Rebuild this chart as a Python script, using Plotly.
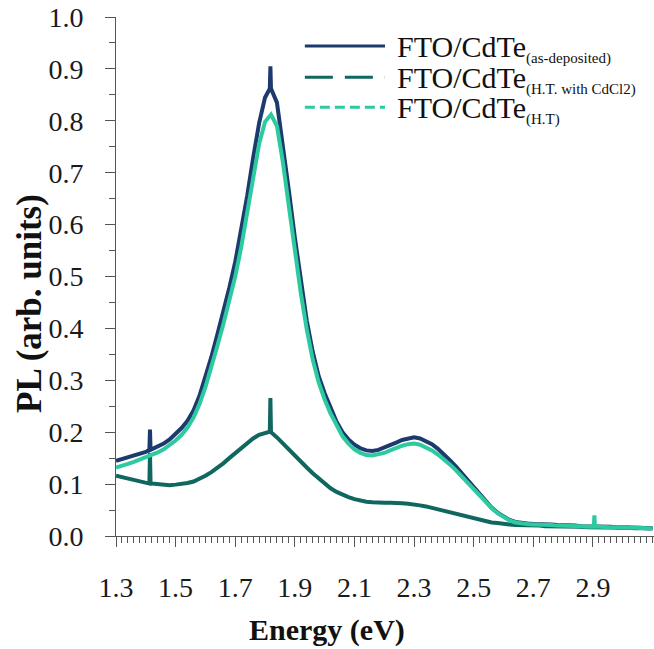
import numpy as np
import plotly.graph_objects as go

# Photon energy grid (eV) on which the spectra were sampled
energy = np.round(np.arange(1.30, 3.101, 0.02), 2).tolist()

# PL intensity, FTO/CdTe as-deposited
pl_as_deposited = [
    0.145, 0.148, 0.151, 0.154, 0.158, 0.162, 0.167, 0.172, 0.178, 0.186,
    0.196, 0.208, 0.222, 0.242, 0.270, 0.305, 0.345, 0.388, 0.432, 0.478,
    0.528, 0.588, 0.655, 0.728, 0.795, 0.845, 0.862, 0.835, 0.755, 0.665,
    0.575, 0.490, 0.415, 0.355, 0.308, 0.275, 0.245, 0.220, 0.200, 0.186,
    0.176, 0.169, 0.165, 0.164, 0.166, 0.170, 0.175, 0.180, 0.185, 0.188,
    0.190, 0.188, 0.183, 0.177, 0.168, 0.158, 0.146, 0.134, 0.121, 0.107,
    0.093, 0.080, 0.067, 0.055, 0.045, 0.037, 0.031, 0.027, 0.025, 0.024,
    0.023, 0.023, 0.022, 0.022, 0.021, 0.021, 0.020, 0.020, 0.019, 0.019,
    0.019, 0.018, 0.018, 0.018, 0.017, 0.017, 0.016, 0.016, 0.016, 0.015,
    0.015,
]

# PL intensity, FTO/CdTe heat treated with CdCl2
pl_ht_cdcl2 = [
    0.116, 0.113, 0.110, 0.107, 0.105, 0.103, 0.101, 0.100, 0.099, 0.098,
    0.099, 0.100, 0.102, 0.105, 0.110, 0.116, 0.123, 0.131, 0.140, 0.150,
    0.160, 0.170, 0.180, 0.188, 0.195, 0.199, 0.200, 0.190, 0.178, 0.166,
    0.155, 0.143, 0.132, 0.121, 0.111, 0.101, 0.092, 0.085, 0.079, 0.075,
    0.071, 0.068, 0.066, 0.065, 0.064, 0.064, 0.064, 0.064, 0.063, 0.062,
    0.061, 0.059, 0.057, 0.054, 0.051, 0.048, 0.045, 0.042, 0.039, 0.036,
    0.033, 0.030, 0.028, 0.026, 0.025, 0.023, 0.022, 0.021, 0.021, 0.020,
    0.020, 0.020, 0.019, 0.019, 0.019, 0.018, 0.018, 0.018, 0.018, 0.017,
    0.017, 0.017, 0.017, 0.016, 0.016, 0.016, 0.016, 0.015, 0.015, 0.015,
    0.015,
]

# PL intensity, FTO/CdTe heat treated
pl_ht = [
    0.132, 0.135, 0.139, 0.143, 0.147, 0.151, 0.156, 0.161, 0.167, 0.175,
    0.184, 0.195, 0.209, 0.228, 0.254, 0.287, 0.325, 0.366, 0.408, 0.452,
    0.500, 0.556, 0.620, 0.690, 0.755, 0.798, 0.812, 0.790, 0.720, 0.635,
    0.550, 0.468, 0.398, 0.340, 0.296, 0.263, 0.236, 0.212, 0.192, 0.178,
    0.167, 0.160, 0.156, 0.155, 0.157, 0.160, 0.165, 0.170, 0.174, 0.177,
    0.178, 0.176, 0.171, 0.165, 0.157, 0.148, 0.138, 0.127, 0.115, 0.102,
    0.089, 0.077, 0.065, 0.054, 0.044, 0.036, 0.030, 0.026, 0.024, 0.023,
    0.022, 0.022, 0.021, 0.021, 0.020, 0.020, 0.020, 0.019, 0.019, 0.018,
    0.018, 0.018, 0.017, 0.017, 0.017, 0.016, 0.016, 0.016, 0.015, 0.015,
    0.015,
]

# Narrow spikes (energy, intensity) superimposed on each spectrum
spikes_as_deposited_e = [1.412, 1.414, 1.416, 1.816, 1.818, 1.820]
spikes_as_deposited_v = [0.166, 0.205, 0.166, 0.862, 0.905, 0.862]
spikes_ht_cdcl2_e = [1.412, 1.414, 1.416, 1.816, 1.818, 1.820]
spikes_ht_cdcl2_v = [0.101, 0.160, 0.101, 0.201, 0.266, 0.200]
spikes_ht_e = [2.903, 2.905, 2.907]
spikes_ht_v = [0.018, 0.040, 0.018]

legend_labels = [
    "FTO/CdTe<sub><span style='font-size:15px'>(as-deposited)</span></sub>",
    "FTO/CdTe<sub><span style='font-size:15px'>(H.T. with CdCl2)</span></sub>",
    "FTO/CdTe<sub><span style='font-size:15px'>(H.T)</span></sub>",
]

COL_AS_DEP = "#1c3a6e"
COL_CDCL2 = "#10675f"
COL_HT = "#2dcaa0"
SERIF = "Liberation Serif, Times New Roman, serif"


def merged(xs, ys, sx, sy):
    pts = sorted(zip(list(xs) + list(sx), list(ys) + list(sy)))
    return [p[0] for p in pts], [p[1] for p in pts]


fig = go.Figure()

x, y = merged(energy, pl_ht_cdcl2, spikes_ht_cdcl2_e, spikes_ht_cdcl2_v)
fig.add_trace(go.Scatter(x=x, y=y, mode="lines", showlegend=False,
                         line=dict(color=COL_CDCL2, width=4)))
x, y = merged(energy, pl_as_deposited, spikes_as_deposited_e, spikes_as_deposited_v)
fig.add_trace(go.Scatter(x=x, y=y, mode="lines", showlegend=False,
                         line=dict(color=COL_AS_DEP, width=4)))
x, y = merged(energy, pl_ht, spikes_ht_e, spikes_ht_v)
fig.add_trace(go.Scatter(x=x, y=y, mode="lines", showlegend=False,
                         line=dict(color=COL_HT, width=4)))

# Hand-built legend with long line samples
legend_rows_y = [0.944, 0.884, 0.826]
legend_styles = [
    dict(color=COL_AS_DEP, width=3, dash="solid"),
    dict(color=COL_CDCL2, width=3, dash="28px,12px"),
    dict(color=COL_HT, width=3, dash="10px,5px"),
]
for ly, style, label in zip(legend_rows_y, legend_styles, legend_labels):
    fig.add_shape(type="line", xref="paper", yref="paper",
                  x0=0.351, x1=0.50, y0=ly, y1=ly, line=style)
    fig.add_annotation(xref="paper", yref="paper", x=0.519, y=ly - 0.004,
                       xanchor="left", yanchor="middle", showarrow=False,
                       text=label,
                       font=dict(family=SERIF, size=30, color="#111111"))

AXIS_COL = "#555555"
TICK_FONT = dict(family=SERIF, size=28, color="#1a1a1a")

fig.update_xaxes(
    range=[1.3, 3.105], tickvals=[1.3, 1.5, 1.7, 1.9, 2.1, 2.3, 2.5, 2.7, 2.9],
    ticktext=["1.3", "1.5", "1.7", "1.9", "2.1", "2.3", "2.5", "2.7", "2.9"],
    ticks="outside", ticklen=10, tickwidth=1, tickcolor=AXIS_COL,
    minor=dict(dtick=0.02, tick0=1.3, ticks="outside", ticklen=6, tickcolor=AXIS_COL, tickwidth=1),
    showline=True, linecolor=AXIS_COL, linewidth=1,
    showgrid=False, zeroline=False, tickfont=TICK_FONT, ticklabelstandoff=16,
)
fig.update_yaxes(
    range=[0, 1.0], tick0=0, dtick=0.1, tickformat=".1f",
    ticks="outside", ticklen=10, tickwidth=1, tickcolor=AXIS_COL,
    minor=dict(dtick=0.05, ticks="outside", ticklen=6, tickcolor=AXIS_COL, tickwidth=1),
    showline=True, linecolor=AXIS_COL, linewidth=1,
    showgrid=False, zeroline=False, tickfont=TICK_FONT, ticklabelstandoff=16,
)

# Axis titles
fig.add_annotation(xref="paper", yref="paper", x=0.392, y=-0.181,
                   xanchor="center", yanchor="middle", showarrow=False,
                   text="<b>Energy (eV)</b>",
                   font=dict(family=SERIF, size=30, color="#111111"))
fig.add_annotation(xref="paper", yref="paper", x=-0.16, y=0.449,
                   xanchor="center", yanchor="middle", showarrow=False, textangle=-90,
                   text="<b>PL (arb. units)</b>",
                   font=dict(family=SERIF, size=35, color="#111111"))

fig.update_layout(
    width=654, height=649,
    margin=dict(l=116, r=0, t=17, b=113),
    paper_bgcolor="white", plot_bgcolor="white",
    showlegend=False,
    font=dict(family=SERIF),
)

fig.write_html("out.html")
